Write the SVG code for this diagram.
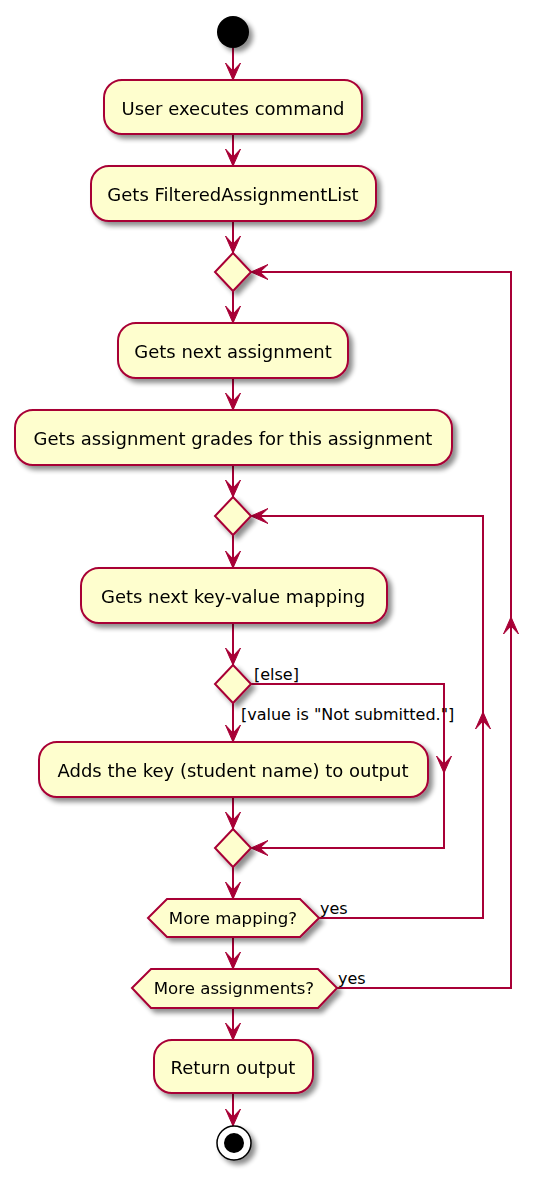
<svg xmlns="http://www.w3.org/2000/svg" xmlns:xlink="http://www.w3.org/1999/xlink" width="551" height="1178" viewBox="0 0 551 1178">
<style>
.node{fill:#FEFECE;stroke:#A80036;stroke-width:2;}
.t{font-family:"DejaVu Sans","Liberation Sans",sans-serif;font-size:18px;fill:#000;text-anchor:middle;}
.ht{font-family:"DejaVu Sans","Liberation Sans",sans-serif;font-size:16.6px;fill:#000;text-anchor:middle;}
.lb{font-family:"DejaVu Sans","Liberation Sans",sans-serif;font-size:16px;fill:#000;}
.ln{fill:none;stroke:#A80036;stroke-width:2;}
.ah{fill:#A80036;stroke:#A80036;stroke-width:1;}
</style>
<defs>
<filter id="sh" x="-20%" y="-20%" width="150%" height="160%">
<feGaussianBlur in="SourceAlpha" stdDeviation="2.5"/>
<feOffset dx="4" dy="4" result="b"/>
<feComponentTransfer><feFuncA type="linear" slope="0.45"/></feComponentTransfer>
<feMerge><feMergeNode/><feMergeNode in="SourceGraphic"/></feMerge>
</filter>
<path id="ah" d="M0,0 L-7.5,-17 L0,-9 L7.5,-17 Z"/>
</defs>
<rect width="551" height="1178" fill="#FFFFFF"/>
<g id="connectors">
<path class="ln" d="M233,48 V80 M233,134 V166 M233,221 V253 M233,291 V323 M233,378 V410 M233,465 V497 M233,535 V568 M233,623 V665 M233,703 V742 M233,797 V829 M233,867 V899 M233,937 V969 M233,1008 V1040 M233,1093 V1126"/>
<path class="ln" d="M251,684 H444 V848 H251"/>
<path class="ln" d="M319,918 H483 V516 H251"/>
<path class="ln" d="M337,988 H511 V272 H251"/>
<g class="ah">
<use xlink:href="#ah" transform="translate(233,80)"/>
<use xlink:href="#ah" transform="translate(233,166)"/>
<use xlink:href="#ah" transform="translate(233,253)"/>
<use xlink:href="#ah" transform="translate(233,323)"/>
<use xlink:href="#ah" transform="translate(233,410)"/>
<use xlink:href="#ah" transform="translate(233,497)"/>
<use xlink:href="#ah" transform="translate(233,568)"/>
<use xlink:href="#ah" transform="translate(233,665)"/>
<use xlink:href="#ah" transform="translate(233,742)"/>
<use xlink:href="#ah" transform="translate(233,829)"/>
<use xlink:href="#ah" transform="translate(233,899)"/>
<use xlink:href="#ah" transform="translate(233,969)"/>
<use xlink:href="#ah" transform="translate(233,1040)"/>
<use xlink:href="#ah" transform="translate(233,1126)"/>
<use xlink:href="#ah" transform="translate(444,773)"/>
<use xlink:href="#ah" transform="translate(251,848) rotate(90)"/>
<use xlink:href="#ah" transform="translate(483,712) rotate(180)"/>
<use xlink:href="#ah" transform="translate(251,516) rotate(90)"/>
<use xlink:href="#ah" transform="translate(511,617) rotate(180)"/>
<use xlink:href="#ah" transform="translate(251,272) rotate(90)"/>
</g>
<text class="lb" x="254" y="680">[else]</text>
<text class="lb" x="241" y="720">[value is "Not submitted."]</text>
<text class="lb" x="320" y="914">yes</text>
<text class="lb" x="338" y="984">yes</text>
</g>
<g id="start" filter="url(#sh)"><circle cx="233" cy="32" r="16" fill="#000"/></g>
<g id="n1" filter="url(#sh)"><rect class="node" x="104" y="80" width="258" height="54" rx="18"/><text class="t" x="233" y="115">User executes command</text></g>
<g id="n2" filter="url(#sh)"><rect class="node" x="91" y="166" width="285" height="55" rx="18"/><text class="t" x="233" y="201">Gets FilteredAssignmentList</text></g>
<g id="d1" filter="url(#sh)"><polygon class="node" points="233,253 251,272 233,291 215,272"/></g>
<g id="n3" filter="url(#sh)"><rect class="node" x="118" y="323" width="230" height="55" rx="18"/><text class="t" x="233" y="358">Gets next assignment</text></g>
<g id="n4" filter="url(#sh)"><rect class="node" x="15" y="410" width="437" height="55" rx="18"/><text class="t" x="233" y="445">Gets assignment grades for this assignment</text></g>
<g id="d2" filter="url(#sh)"><polygon class="node" points="233,497 251,516 233,535 215,516"/></g>
<g id="n5" filter="url(#sh)"><rect class="node" x="81" y="568" width="306" height="55" rx="18"/><text class="t" x="233" y="603">Gets next key-value mapping</text></g>
<g id="d3" filter="url(#sh)"><polygon class="node" points="233,665 251,684 233,703 215,684"/></g>
<g id="n6" filter="url(#sh)"><rect class="node" x="39" y="742" width="389" height="55" rx="18"/><text class="t" x="233" y="777">Adds the key (student name) to output</text></g>
<g id="d4" filter="url(#sh)"><polygon class="node" points="233,829 251,848 233,867 215,848"/></g>
<g id="h1" filter="url(#sh)"><polygon class="node" points="148,918 167,899 300,899 319,918 300,937 167,937"/><text class="ht" x="233" y="924">More mapping?</text></g>
<g id="h2" filter="url(#sh)"><polygon class="node" points="132,988 151,969 318,969 337,988 318,1008 151,1008"/><text class="ht" x="234" y="994">More assignments?</text></g>
<g id="n7" filter="url(#sh)"><rect class="node" x="154" y="1040" width="159" height="53" rx="18"/><text class="t" x="233" y="1074">Return output</text></g>
<g id="end" filter="url(#sh)"><circle cx="234" cy="1143" r="17" fill="#FFFFFF" stroke="#000" stroke-width="1.5"/><circle cx="234" cy="1143" r="10" fill="#000"/></g>
</svg>
